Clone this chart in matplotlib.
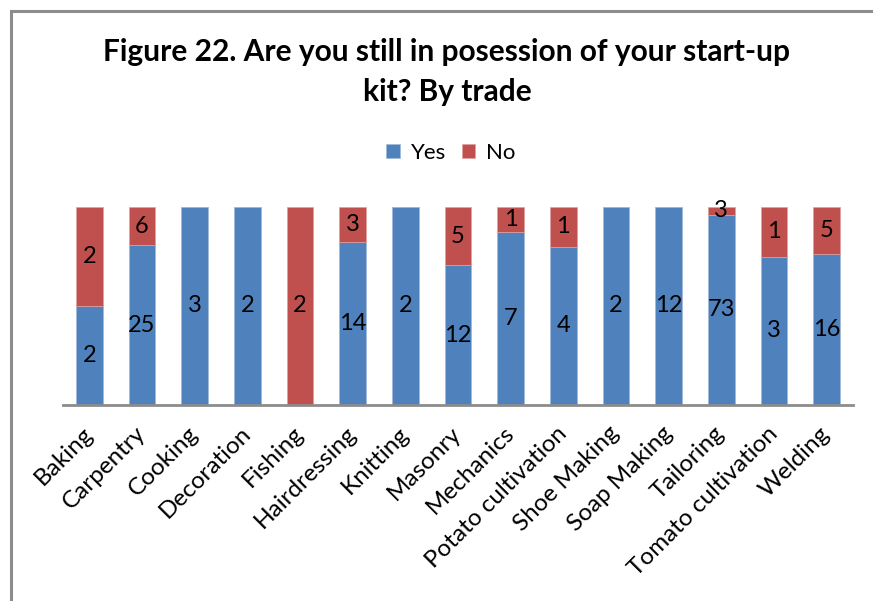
import matplotlib
matplotlib.use("Agg")
import matplotlib.pyplot as plt
from matplotlib.lines import Line2D
import numpy as np

plt.rcParams['font.family'] = ['Lato', 'DejaVu Sans']

trades = ['Baking', 'Carpentry', 'Cooking', 'Decoration', 'Fishing',
          'Hairdressing', 'Knitting', 'Masonry', 'Mechanics',
          'Potato cultivation', 'Shoe Making', 'Soap Making', 'Tailoring',
          'Tomato cultivation', 'Welding']
yes_counts = [2, 25, 3, 2, 0, 14, 2, 12, 7, 4, 2, 12, 73, 3, 16]
no_counts = [2, 6, 0, 0, 2, 3, 0, 5, 1, 1, 0, 0, 3, 1, 5]

blue = '#4F81BD'
red = '#C0504D'

yes = np.array(yes_counts, dtype=float)
no = np.array(no_counts, dtype=float)
total = yes + no
yes_share = yes / total
no_share = no / total

W, H = 873, 601
fig = plt.figure(figsize=(W / 100, H / 100), dpi=100)

# outer chart frame (only left and top edges fall inside the picture)
fig.add_artist(Line2D([11 / W, 11 / W], [0, 1 - 11 / H], color='#8c8c8c', lw=2.2))
fig.add_artist(Line2D([11 / W, 1], [1 - 11 / H, 1 - 11 / H], color='#8c8c8c', lw=2.2))

ax = fig.add_axes([63 / W, (H - 405) / H, (853 - 63) / W, (405 - 207) / H])
x = np.arange(len(trades))
ax.bar(x, yes_share, width=0.51, color=blue, label='Yes', edgecolor='#9fb8d9', linewidth=0.5)
ax.bar(x, no_share, width=0.51, bottom=yes_share, color=red, label='No', edgecolor='#e0a09e', linewidth=0.5)

for i in range(len(trades)):
    if yes[i] > 0:
        ax.text(x[i], yes_share[i] / 2, f'{int(yes[i])}', ha='center', va='center', fontsize=17)
    if no[i] > 0:
        ax.text(x[i], yes_share[i] + no_share[i] / 2, f'{int(no[i])}', ha='center', va='center', fontsize=17)

ax.set_xlim(-0.5, len(trades) - 0.5)
ax.set_ylim(0, 1)
ax.set_yticks([])
for s in ['top', 'right', 'left']:
    ax.spines[s].set_visible(False)
ax.spines['bottom'].set_color('#8c8c8c')
ax.spines['bottom'].set_linewidth(2)
ax.set_xticks(x)
ax.set_xticklabels(trades, rotation=45, ha='right', va='center', rotation_mode='anchor', fontsize=17.5)
ax.tick_params(axis='x', length=0, pad=18)

fig.text(447 / W, 1 - 72 / H, 'Figure 22. Are you still in posession of your start-up\nkit? By trade',
         ha='center', va='center', fontsize=21.5, fontweight='bold', linespacing=1.5)

fig.legend(loc='center', bbox_to_anchor=(451 / W, 1 - 153 / H), ncol=2, frameon=False,
           fontsize=16, handlelength=0.6, handleheight=0.6, handletextpad=0.5, columnspacing=0.7)

fig.savefig('out.png', dpi=100)
